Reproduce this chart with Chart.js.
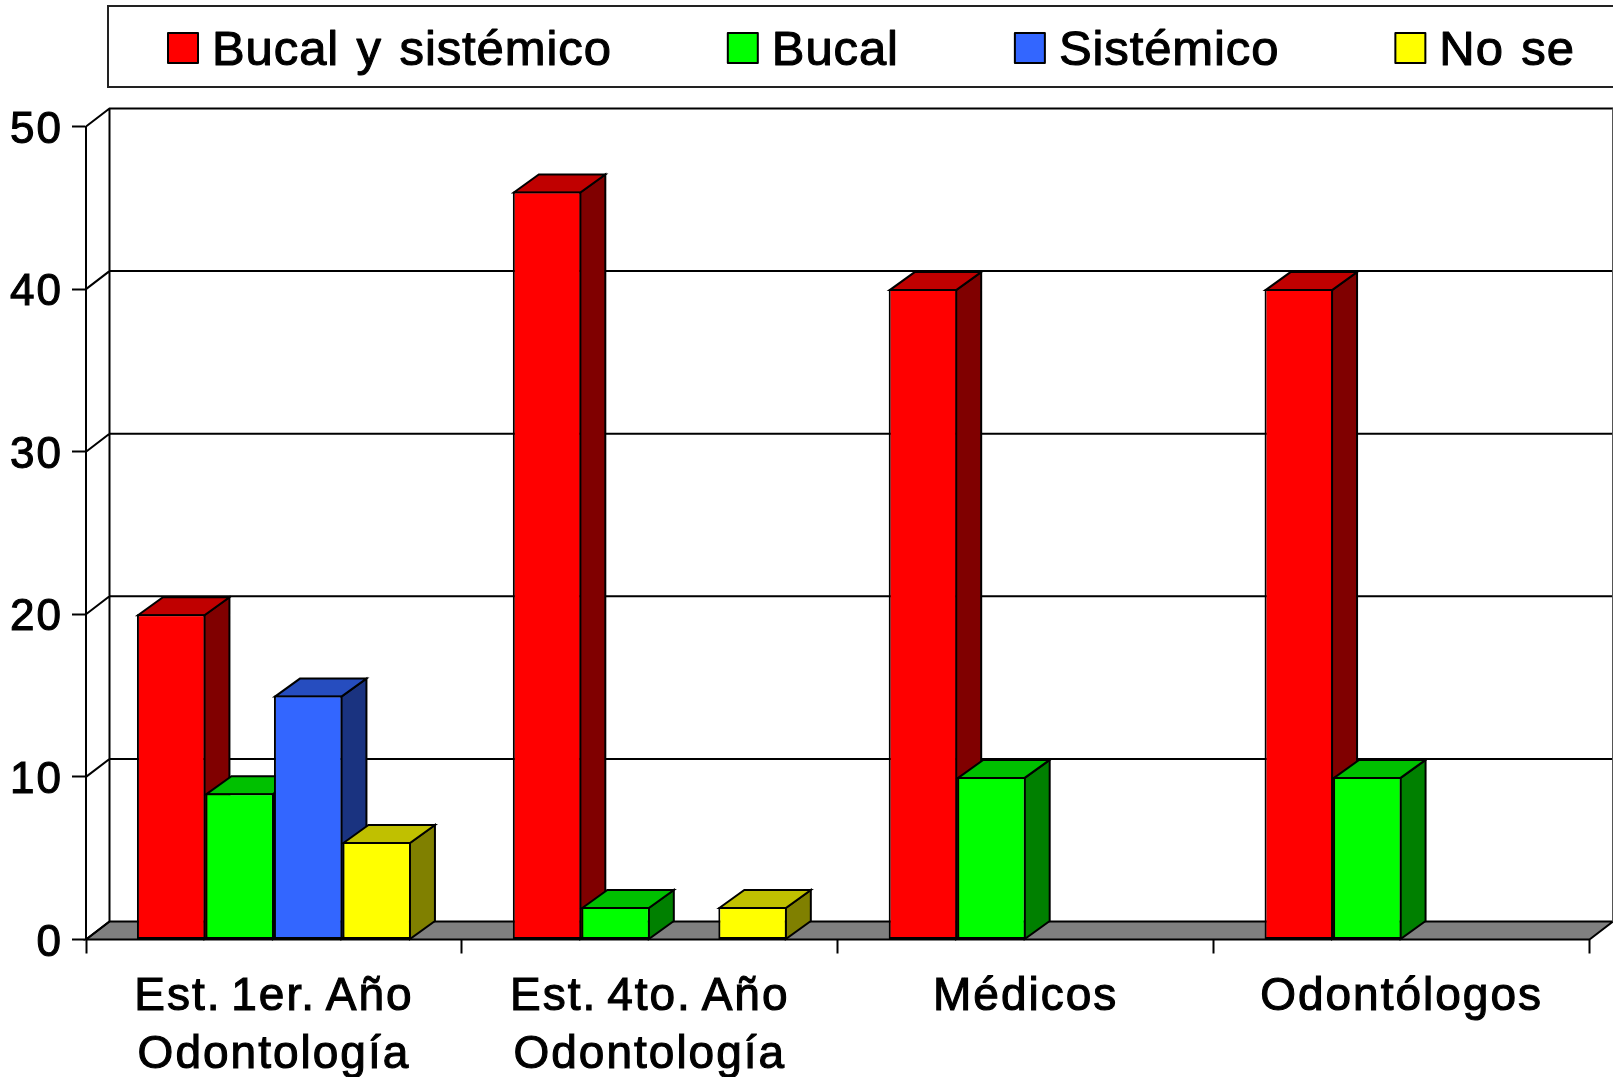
<!DOCTYPE html>
<html>
<head>
<meta charset="utf-8">
<title>Bucal y sistémico</title>
<script src="https://cdn.jsdelivr.net/npm/chart.js@4/dist/chart.umd.js"></script>
<style>
  html, body { margin: 0; padding: 0; background: #fff; }
  canvas { display: block; }
</style>
</head>
<body>
<canvas id="barChart" width="1613" height="1077"></canvas>
<script>
// data
const categories = [['Est. 1er. Año', 'Odontología'], ['Est. 4to. Año', 'Odontología'], 'Médicos', 'Odontólogos'];
const seriesNames = ['Bucal y sistémico', 'Bucal', 'Sistémico', 'No se'];
const bucalSistemico = [20, 46, 40, 40];
const bucal = [9, 2, 10, 10];
const sistemico = [15, null, null, null];
const noSe = [6, 2, null, null];
const yTicks = [0, 10, 20, 30, 40, 50];

// front, top and side colours per series
const frontColors = ['#ff0000', '#00ff00', '#3366ff', '#ffff00'];
const topColors = ['#c00000', '#00c000', '#264dbf', '#c0c000'];
const sideColors = ['#800000', '#008000', '#1a3380', '#808000'];

const FONT = '"Liberation Sans", Arial, sans-serif';
const DEPTH_X = 23.5;
const DEPTH_Y = 18;
const BAR_DEPTH_X = 25;

function poly(ctx, pts, fill) {
    ctx.beginPath();
    ctx.moveTo(pts[0][0], pts[0][1]);
    for (let i = 1; i < pts.length; i++) ctx.lineTo(pts[i][0], pts[i][1]);
    ctx.closePath();
    if (fill) {
        ctx.fillStyle = fill;
        ctx.fill();
    }
    ctx.stroke();
}

// back wall, side wall and floor, placed from the chart's own scales
function drawWalls(chart) {
    const ctx = chart.ctx;
    const area = chart.chartArea;
    const y = chart.scales.y;
    ctx.save();
    ctx.strokeStyle = '#000';
    ctx.lineWidth = 2;
    poly(ctx, [[area.left, area.bottom], [area.left + DEPTH_X, area.bottom - DEPTH_Y],
        [area.right + DEPTH_X, area.bottom - DEPTH_Y], [area.right, area.bottom]], '#808080');
    ctx.beginPath();
    ctx.moveTo(area.left + DEPTH_X, area.bottom - DEPTH_Y);
    ctx.lineTo(area.left + DEPTH_X, area.top - DEPTH_Y);
    yTicks.forEach(v => {
        const py = y.getPixelForValue(v);
        ctx.moveTo(area.left, py);
        ctx.lineTo(area.left + DEPTH_X, py - DEPTH_Y);
        if (v > 0) {
            ctx.lineTo(area.right + DEPTH_X, py - DEPTH_Y);
        }
    });
    ctx.stroke();
    ctx.lineWidth = 1;
    ctx.strokeStyle = '#555';
    ctx.beginPath();
    ctx.moveTo(area.right + DEPTH_X - 0.5, area.top - DEPTH_Y);
    ctx.lineTo(area.right + DEPTH_X - 0.5, area.bottom - DEPTH_Y);
    ctx.stroke();
    ctx.restore();
}

// side and top faces of every bar, taken from the bar elements
function drawBarDepth(chart) {
    const ctx = chart.ctx;
    ctx.save();
    ctx.strokeStyle = '#000';
    ctx.lineWidth = 2;
    ctx.lineJoin = 'miter';
    chart.data.labels.forEach((label, j) => {
        chart.data.datasets.forEach((ds, i) => {
            if (ds.data[j] === null) return;
            const bar = chart.getDatasetMeta(i).data[j];
            const right = bar.x + bar.width / 2 - 1;
            const left = bar.x - bar.width / 2 + 1;
            const top = bar.y + 1;
            const base = bar.base;
            poly(ctx, [[right, top], [right + BAR_DEPTH_X, top - DEPTH_Y],
                [right + BAR_DEPTH_X, base - DEPTH_Y], [right, base]], sideColors[i]);
            poly(ctx, [[left, top], [left + BAR_DEPTH_X, top - DEPTH_Y],
                [right + BAR_DEPTH_X, top - DEPTH_Y], [right, top]], topColors[i]);
        });
    });
    ctx.restore();
}

function drawLegend(chart) {
    const ctx = chart.ctx;
    ctx.save();
    ctx.letterSpacing = '0.9px';
    ctx.wordSpacing = '3px';
    ctx.font = '49px ' + FONT;
    ctx.textBaseline = 'alphabetic';
    ctx.textAlign = 'left';
    ctx.strokeStyle = '#222';
    ctx.lineWidth = 2;
    ctx.strokeRect(108, 6, 1520, 81);
    ctx.lineJoin = 'round';
    let x = 168;
    chart.data.datasets.forEach(ds => {
        ctx.strokeStyle = '#000';
        ctx.lineWidth = 2;
        ctx.fillStyle = ds.backgroundColor;
        ctx.fillRect(x, 33, 30, 30);
        ctx.strokeRect(x, 33, 30, 30);
        ctx.fillStyle = '#000';
        ctx.lineWidth = 1.1;
        ctx.fillText(ds.label, x + 44, 65);
        ctx.strokeText(ds.label, x + 44, 65);
        x += 44 + ctx.measureText(ds.label).width + 116;
    });
    ctx.restore();
}

const depthPlugin = {
    id: 'depth3d',
    beforeDraw(chart) {
        chart.ctx.letterSpacing = '2px';
        chart.ctx.wordSpacing = '-5px';
    },
    beforeDatasetsDraw(chart) {
        drawWalls(chart);
        drawBarDepth(chart);
    },
    afterDraw(chart) {
        drawLegend(chart);
    }
};

const seriesValues = [bucalSistemico, bucal, sistemico, noSe];

new Chart(document.getElementById('barChart'), {
    type: 'bar',
    data: {
        labels: categories,
        datasets: seriesNames.map((name, i) => ({
            label: name,
            data: seriesValues[i],
            backgroundColor: frontColors[i],
            borderColor: '#000',
            borderWidth: 2,
            borderSkipped: false
        }))
    },
    options: {
        responsive: false,
        animation: false,
        categoryPercentage: 0.729,
        barPercentage: 1,
        layout: { padding: { top: 126.5, right: 23.5, left: 0, bottom: 0 } },
        plugins: {
            legend: { display: false },
            tooltip: { enabled: false }
        },
        scales: {
            x: {
                afterFit(scale) { scale.height = 137.5; },
                border: { display: false },
                grid: {
                    drawOnChartArea: false,
                    drawTicks: true,
                    tickLength: 14,
                    tickColor: '#000',
                    tickWidth: 2
                },
                ticks: {
                    color: '#000',
                    padding: 15,
                    maxRotation: 0,
                    autoSkip: false,
                    textStrokeColor: '#000',
                    textStrokeWidth: 1.1,
                    font: { family: FONT, size: 46, lineHeight: 1.26 }
                }
            },
            y: {
                min: 0,
                max: 50,
                afterFit(scale) { scale.width = 86; },
                afterBuildTicks(scale) { scale.ticks = yTicks.map(v => ({ value: v })); },
                border: { display: true, color: '#000', width: 2 },
                grid: {
                    drawOnChartArea: false,
                    drawTicks: true,
                    tickLength: 14,
                    tickColor: '#000',
                    tickWidth: 2
                },
                ticks: {
                    color: '#000',
                    padding: 9,
                    labelOffset: 4,
                    textStrokeColor: '#000',
                    textStrokeWidth: 1.1,
                    font: { family: FONT, size: 44 }
                }
            }
        }
    },
    plugins: [depthPlugin]
});
</script>
</body>
</html>
